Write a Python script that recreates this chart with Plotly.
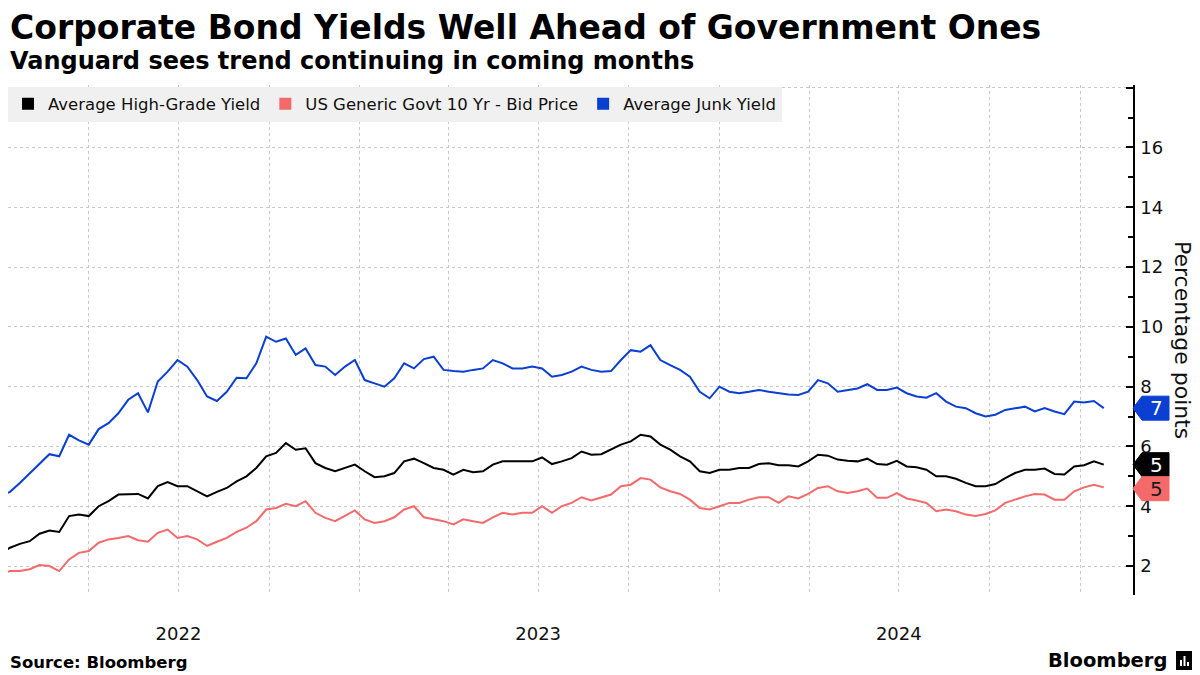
import plotly.graph_objects as go
import pandas as pd

# ---------------- data (every 10 days) ----------------
dates = pd.date_range("2022-01-01", periods=113, freq="10D")

high_grade = [
    2.44, 2.61, 2.74, 2.83, 3.08, 3.19, 3.14, 3.67, 3.72, 3.67,
    4.0, 4.17, 4.39, 4.39, 4.41, 4.26, 4.67, 4.81, 4.67, 4.67,
    4.5, 4.33, 4.48, 4.61, 4.83, 5.0, 5.28, 5.67, 5.78,
    6.11, 5.89, 5.94, 5.44, 5.28, 5.17, 5.28, 5.39, 5.17, 4.97,
    5.0, 5.11, 5.5, 5.59, 5.44, 5.28, 5.22, 5.06, 5.22, 5.14,
    5.17, 5.39, 5.5, 5.5, 5.48, 5.5, 5.63, 5.41, 5.5,
    5.61, 5.83, 5.72, 5.74, 5.89, 6.06, 6.17, 6.39, 6.33, 6.06,
    5.89, 5.67, 5.5, 5.17, 5.11, 5.22, 5.22, 5.28, 5.28, 5.41,
    5.44, 5.37, 5.37, 5.33, 5.5, 5.72, 5.69, 5.56,
    5.52, 5.5, 5.59, 5.41, 5.39, 5.52, 5.33, 5.3, 5.22, 5.0,
    5.0, 4.92, 4.78, 4.67, 4.67, 4.74, 4.94, 5.11, 5.22, 5.22,
    5.26, 5.08, 5.06, 5.33, 5.37, 5.5, 5.39,
]

govt_10y = [
    1.72, 1.83, 1.83, 1.89, 2.03, 2.0, 1.83, 2.22, 2.44, 2.5,
    2.78, 2.89, 2.94, 3.0, 2.86, 2.81, 3.11, 3.22, 2.94, 3.0,
    2.89, 2.67, 2.81, 2.94, 3.14, 3.28, 3.5, 3.89, 3.94,
    4.08, 4.0, 4.17, 3.78, 3.61, 3.5, 3.67, 3.86, 3.56, 3.44,
    3.5, 3.63, 3.89, 4.0, 3.63, 3.56, 3.5, 3.39, 3.56, 3.5,
    3.44, 3.63, 3.78, 3.72, 3.78, 3.78, 4.0, 3.78, 4.0,
    4.11, 4.3, 4.19, 4.28, 4.39, 4.67, 4.72, 4.94, 4.89, 4.63,
    4.5, 4.41, 4.22, 3.94, 3.89, 4.0, 4.11, 4.11, 4.22, 4.3,
    4.3, 4.11, 4.33, 4.26, 4.41, 4.61, 4.67, 4.5,
    4.44, 4.5, 4.59, 4.28, 4.28, 4.44, 4.26, 4.19, 4.11, 3.83,
    3.89, 3.83, 3.72, 3.67, 3.74, 3.86, 4.11, 4.22, 4.33, 4.41,
    4.39, 4.22, 4.22, 4.5, 4.63, 4.72, 4.63,
]

junk = [
    4.33, 4.48, 4.78, 5.1, 5.39, 5.74, 5.67, 6.39, 6.2, 6.06,
    6.58, 6.78, 7.11, 7.56, 7.78, 7.14, 8.17, 8.5, 8.89, 8.67,
    8.22, 7.67, 7.52, 7.83, 8.3, 8.28, 8.78, 9.67, 9.5,
    9.61, 9.06, 9.28, 8.72, 8.67, 8.39, 8.67, 8.89, 8.22, 8.11,
    8.0, 8.28, 8.78, 8.61, 8.92, 9.0, 8.56, 8.52, 8.5, 8.56,
    8.61, 8.89, 8.78, 8.61, 8.61, 8.67, 8.61, 8.33, 8.39,
    8.5, 8.67, 8.56, 8.5, 8.52, 8.89, 9.22, 9.17, 9.39, 8.89,
    8.72, 8.56, 8.33, 7.83, 7.61, 8.0, 7.83, 7.78, 7.83, 7.89,
    7.83, 7.78, 7.74, 7.72, 7.83, 8.22, 8.11, 7.83,
    7.89, 7.94, 8.08, 7.89, 7.89, 7.97, 7.78, 7.67, 7.63, 7.78,
    7.5, 7.33, 7.28, 7.11, 7.0, 7.06, 7.22, 7.28, 7.33, 7.17,
    7.28, 7.17, 7.08, 7.5, 7.47, 7.52, 7.28,
]

series_names = ["Average High-Grade Yield", "US Generic Govt 10 Yr - Bid Price", "Average Junk Yield"]
series_values = [high_grade, govt_10y, junk]
series_colors = ["#000000", "#f46a6a", "#0a3fd1"]
label_text_colors = ["#ffffff", "#1a1a1a", "#ffffff"]

year_tick_dates = ["2022-07-01", "2023-07-01", "2024-07-01"]
year_tick_labels = ["2022", "2023", "2024"]
y_tick_values = [2, 4, 6, 8, 10, 12, 14, 16, 18]
y_tick_labels = ["2", "4", "6", "8", "10", "12", "14", "16", ""]

title = "Corporate Bond Yields Well Ahead of Government Ones"
subtitle = "Vanguard sees trend continuing in coming months"
source = "Source: Bloomberg"
y_title = "Percentage points"

# ---------------- layout geometry ----------------
# The page adds an 8px body margin, so the figure is sized/positioned to
# compensate; all positions below are given in page pixels.
OFF = 8
W, H = 1200 - OFF, 675 - OFF
PLOT_LEFT_PAGE, PLOT_RIGHT_PAGE = OFF, 1133
PLOT_TOP_PAGE, PLOT_BOTTOM_PAGE = 85, 595
M_L = PLOT_LEFT_PAGE - OFF
M_R = W - (PLOT_RIGHT_PAGE - OFF)
M_T = PLOT_TOP_PAGE - OFF
M_B = H - (PLOT_BOTTOM_PAGE - OFF)
PLOT_H = PLOT_BOTTOM_PAGE - PLOT_TOP_PAGE
PLOT_W = PLOT_RIGHT_PAGE - PLOT_LEFT_PAGE
Y_MIN, Y_MAX = 1.03, 18.09
X_RANGE = ["2022-01-09", "2025-02-23 16:00"]
FONT = "DejaVu Sans"
GRID = "#c9c9c9"


def py(pix):
    """page pixel row -> paper y"""
    return (PLOT_BOTTOM_PAGE - pix) / PLOT_H


def px(pix):
    """page pixel column -> paper x"""
    return (pix - PLOT_LEFT_PAGE) / PLOT_W


fig = go.Figure()

for name, vals, col in zip(series_names, series_values, series_colors):
    fig.add_trace(go.Scatter(
        x=dates, y=vals, mode="lines", name=name, showlegend=False,
        line=dict(color=col, width=2), hoverinfo="skip",
    ))
    fig.add_trace(go.Scatter(
        x=[None], y=[None], mode="markers", name=name, showlegend=True,
        marker=dict(symbol="square", size=12, color=col),
    ))

# ---------------- end-of-line value tags ----------------
unit_px = PLOT_H / (Y_MAX - Y_MIN)
min_sep = 24 / unit_px
order = sorted(range(len(series_values)), key=lambda k: -series_values[k][-1])
positions = {}
prev = None
for k in order:
    v = series_values[k][-1]
    if prev is not None and prev - v < min_sep:
        v = prev - min_sep
    positions[k] = v
    prev = v

shapes = []
annotations = []
for k in range(len(series_values)):
    yp = (positions[k] - Y_MIN) / (Y_MAX - Y_MIN)
    shapes.append(dict(
        type="path", xref="paper", yref="paper",
        xsizemode="pixel", ysizemode="pixel", xanchor=1, yanchor=yp,
        path="M 0 0 L 9 12 L 36 12 L 36 -12 L 9 -12 Z",
        fillcolor=series_colors[k], line=dict(color=series_colors[k], width=1),
        layer="above",
    ))
    annotations.append(dict(
        xref="paper", yref="paper", x=1, y=yp, xshift=23,
        text=str(int(round(series_values[k][-1]))), showarrow=False,
        xanchor="center", yanchor="middle",
        font=dict(family=FONT, size=20, color=label_text_colors[k]),
    ))

# ---------------- texts ----------------
annotations += [
    dict(xref="paper", yref="paper", x=0, y=py(28), xanchor="left", yanchor="middle",
         text=f"<b>{title}</b>", showarrow=False,
         font=dict(family=FONT, size=33, color="#000")),
    dict(xref="paper", yref="paper", x=0, y=py(61), xanchor="left", yanchor="middle",
         text=f"<b>{subtitle}</b>", showarrow=False,
         font=dict(family=FONT, size=24, color="#000")),
    dict(xref="paper", yref="paper", x=0, y=py(662), xanchor="left", yanchor="middle",
         text=f"<b>{source}</b>", showarrow=False,
         font=dict(family=FONT, size=16.5, color="#000")),
    dict(xref="paper", yref="paper", x=px(1169), y=py(660), xanchor="right", yanchor="middle",
         text="<b>Bloomberg</b>", showarrow=False,
         font=dict(family=FONT, size=19.5, color="#000")),
    dict(xref="paper", yref="paper", x=1, xshift=50, y=0.5, xanchor="center", yanchor="middle",
         text=y_title, textangle=90, showarrow=False,
         font=dict(family=FONT, size=22, color="#111")),
]

# Bloomberg icon
shapes.append(dict(type="rect", xref="paper", yref="paper",
                   x0=px(1176), x1=px(1193), y0=py(670), y1=py(651),
                   fillcolor="#000", line=dict(width=0), layer="above"))
for bx, top in [(1181, 660), (1184.5, 656), (1188, 662)]:
    shapes.append(dict(type="line", xref="paper", yref="paper",
                       x0=px(bx), x1=px(bx), y0=py(666), y1=py(top),
                       line=dict(color="#fff", width=2), layer="above"))

fig.update_layout(
    width=W, height=H,
    margin=dict(l=M_L, r=M_R, t=M_T, b=M_B, pad=0, autoexpand=False),
    paper_bgcolor="#ffffff", plot_bgcolor="#ffffff",
    font=dict(family=FONT, size=16, color="#111"),
    showlegend=True,
    legend=dict(
        orientation="h", x=0, y=py(104), xanchor="left", yanchor="middle",
        bgcolor="#f0f0f0", font=dict(family=FONT, size=16.5, color="#111"),
        itemwidth=30, traceorder="normal",
    ),
    shapes=shapes,
    annotations=annotations,
    xaxis=dict(
        type="date", range=X_RANGE,
        tickmode="array", tickvals=year_tick_dates, ticktext=year_tick_labels,
        ticks="", showline=False, zeroline=False,
        showgrid=True, gridcolor=GRID, griddash="dot", gridwidth=1,
        minor=dict(dtick="M3", tick0="2022-01-01", showgrid=True,
                   gridcolor=GRID, griddash="dot", gridwidth=1, ticks=""),
        tickfont=dict(family=FONT, size=18, color="#111"),
        ticklabelstandoff=26,
    ),
    yaxis=dict(
        side="right", range=[Y_MIN, Y_MAX],
        tickmode="array", tickvals=y_tick_values, ticktext=y_tick_labels,
        ticks="inside", ticklen=7, tickwidth=1.5, tickcolor="#000",
        showline=True, linecolor="#000", linewidth=1.5,
        showgrid=True, gridcolor=GRID, griddash="dot", gridwidth=1,
        zeroline=False,
        minor=dict(tick0=1, dtick=2, ticks="inside", ticklen=5, tickcolor="#000", showgrid=False),
        tickfont=dict(family=FONT, size=18, color="#111"),
        ticklabelstandoff=2,
    ),
)

fig.write_html("out.html")
